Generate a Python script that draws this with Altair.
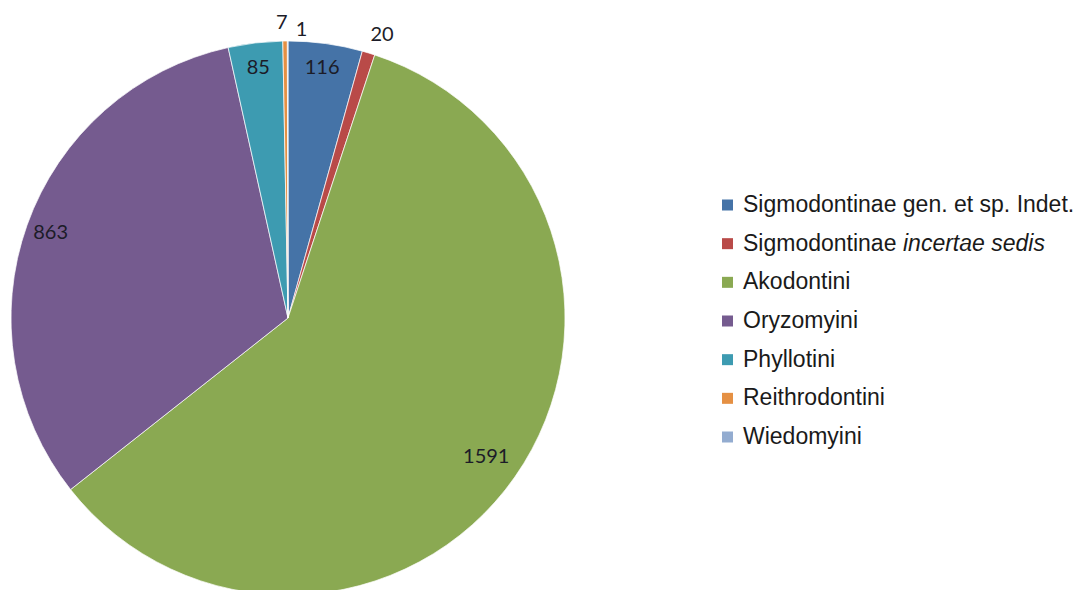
import altair as alt
import pandas as pd

# Sigmodontine specimens per tribe
tribes = [
    "Sigmodontinae gen. et sp. Indet.",
    "Sigmodontinae incertae sedis",
    "Akodontini",
    "Oryzomyini",
    "Phyllotini",
    "Reithrodontini",
    "Wiedomyini",
]
counts = [116, 20, 1591, 863, 85, 7, 1]
colors = ["#4573a7", "#b94a48", "#8aa952", "#755b8f", "#3d9bb1", "#e59043", "#93acd0"]

# legend text: upright part and italic part of each entry
legend_plain = [
    "Sigmodontinae gen. et sp. Indet.",
    "Sigmodontinae",
    "Akodontini",
    "Oryzomyini",
    "Phyllotini",
    "Reithrodontini",
    "Wiedomyini",
]
legend_italic = ["", "incertae sedis", "", "", "", "", ""]

df = pd.DataFrame({
    "tribe": tribes,
    "n": counts,
    "idx": list(range(len(tribes))),
    "plain": legend_plain,
    "italic": legend_italic,
})
total = sum(counts)

CX, CY, R = 288, 318, 277

base = (
    alt.Chart(df)
    .transform_window(cum="sum(n)", sort=[alt.SortField("idx")])
    .transform_calculate(start="datum.cum - datum.n", mid="datum.cum - datum.n / 2")
)

theta_scale = alt.Scale(domain=[0, total])
color_scale = alt.Scale(domain=tribes, range=colors)

pie = base.mark_arc(outerRadius=R, stroke="white", strokeWidth=0.7).encode(
    x=alt.value(CX),
    y=alt.value(CY),
    theta=alt.Theta("start:Q", stack=None, scale=theta_scale),
    theta2="cum:Q",
    color=alt.Color("tribe:N", scale=color_scale, legend=None),
)

label_style = dict(font="Lato", fontSize=20, color="#1c1c28", align="center", baseline="middle")


def slice_label(cond, radius, dx=0, dy=0):
    return base.transform_filter(cond).mark_text(radius=radius, dx=dx, dy=dy, **label_style).encode(
        x=alt.value(CX),
        y=alt.value(CY),
        theta=alt.Theta("mid:Q", stack=None, scale=theta_scale),
        text=alt.Text("n:Q"),
    )


labels = [
    slice_label("datum.n >= 50 && datum.n < 1000", 252),
    slice_label("datum.n >= 1000", 242),
    slice_label("datum.n == 20", 296, dx=8),
    slice_label("datum.n == 7", 295, dx=-3),
    slice_label("datum.n == 1", 288, dx=14),
]

legend_y = alt.Y(
    "tribe:N",
    sort=tribes,
    axis=None,
    scale=alt.Scale(domain=tribes, range=[205, 437], padding=0),
)

legend_marks = alt.Chart(df).mark_square(size=121, opacity=1).encode(
    x=alt.value(727.5),
    y=legend_y,
    color=alt.Color("tribe:N", scale=color_scale, legend=None),
)

legend_text_style = dict(font="Liberation Sans", fontSize=23, color="#1a1a1a", align="left", baseline="middle")

legend_text = alt.Chart(df).mark_text(**legend_text_style).encode(
    x=alt.value(743),
    y=legend_y,
    text="plain:N",
)

legend_text_it = (
    alt.Chart(df)
    .transform_filter("datum.italic != ''")
    .mark_text(fontStyle="italic", dx=160, **legend_text_style)
    .encode(x=alt.value(743), y=legend_y, text="italic:N")
)

chart = (
    alt.layer(pie, *labels, legend_marks, legend_text, legend_text_it)
    .properties(width=1080, height=590, padding=0, autosize=alt.AutoSizeParams(type="none"))
    .configure_view(stroke=None)
)

chart.save("out.html", embed_options={"renderer": "svg", "actions": False})
